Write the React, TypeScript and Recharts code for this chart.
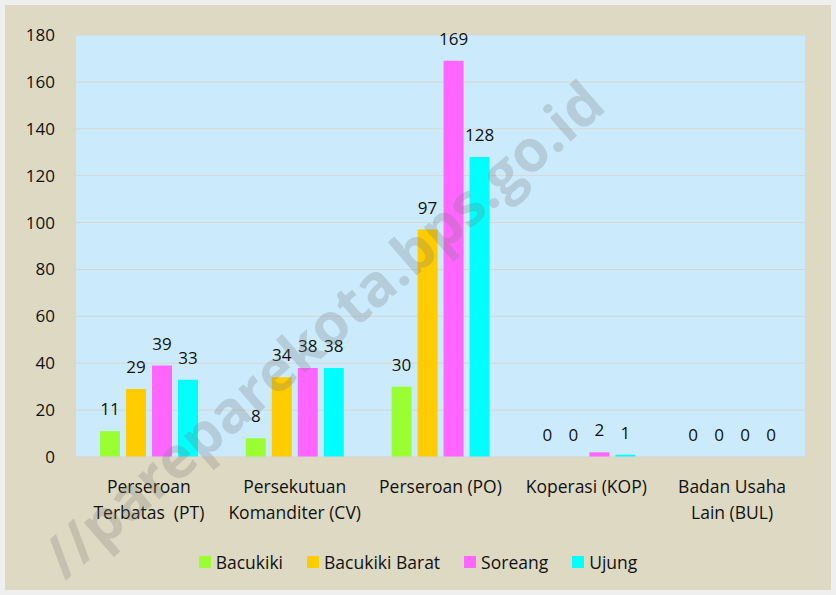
import React from "react";
import { BarChart, Bar, XAxis, YAxis, CartesianGrid, LabelList, Legend } from "recharts";

const categories = [
  "Perseroan\nTerbatas  (PT)",
  "Persekutuan\nKomanditer (CV)",
  "Perseroan (PO)",
  "Koperasi (KOP)",
  "Badan Usaha\nLain (BUL)",
];
const bacukiki = [11, 8, 30, 0, 0];
const bacukikiBarat = [29, 34, 97, 0, 0];
const soreang = [39, 38, 169, 2, 0];
const ujung = [33, 38, 128, 1, 0];
const yTicks = [0, 20, 40, 60, 80, 100, 120, 140, 160, 180];

const series = [
  { key: "bacukiki", name: "Bacukiki", color: "#99ff33" },
  { key: "bacukikiBarat", name: "Bacukiki Barat", color: "#ffcc00" },
  { key: "soreang", name: "Soreang", color: "#ff66ff" },
  { key: "ujung", name: "Ujung", color: "#00ffff" },
];

const data = categories.map((name, i) => ({
  name,
  bacukiki: bacukiki[i],
  bacukikiBarat: bacukikiBarat[i],
  soreang: soreang[i],
  ujung: ujung[i],
}));

const FONT = "'Open Sans', sans-serif";

const CategoryTick = (props: any) => {
  const { x, y, payload } = props;
  const lines = String(payload.value).split("\n");
  return (
    <text x={x} y={y} textAnchor="middle" fontSize={17.5} fill="#111" fontFamily={FONT}>
      {lines.map((line, i) => (
        <tspan key={i} x={x} y={y + 28 + i * 26} style={{ whiteSpace: "pre" }}>
          {line}
        </tspan>
      ))}
    </text>
  );
};

// draws the value above the bar, also for zero-height bars
const ValueLabel = (props: any) => {
  const { x, y, width, value } = props;
  return (
    <text x={Number(x) + Number(width) / 2} y={Number(y) - 16} textAnchor="middle" fontSize={17} fill="#111" fontFamily={FONT}>
      {value}
    </text>
  );
};

const LegendContent = () => (
  <div style={{ display: "flex", justifyContent: "center", alignItems: "center", fontFamily: FONT, fontSize: 17.5, color: "#111" }}>
    {series.map((s, i) => (
      <div key={s.key} style={{ display: "flex", alignItems: "center", marginLeft: i === 0 ? 0 : 24 }}>
        <span style={{ width: 12, height: 12, background: s.color, display: "inline-block", marginRight: 5 }} />
        <span>{s.name}</span>
      </div>
    ))}
  </div>
);

// tiny height for zero values so their labels still get drawn
const zeroPoint = (value: any) => (value === 0 ? 0.01 : 0);

export default function App() {
  return (
    <div style={{ position: "absolute", left: 0, top: 0, width: 836, height: 595, background: "#efefef", overflow: "hidden" }}>
      <div style={{ position: "absolute", left: 5, top: 5, width: 826, height: 585, background: "#ddd9c3" }}>
        <BarChart
          width={826}
          height={585}
          data={data}
          margin={{ top: 30, right: 26, left: 0, bottom: 53 }}
          barSize={20}
          barGap={6}
        >
          <CartesianGrid vertical={false} stroke="#d8d6d0" fill="#cbebfd" />
          <XAxis
            dataKey="name"
            height={80}
            interval={0}
            tickLine={false}
            axisLine={{ stroke: "#d8d6d0" }}
            tick={<CategoryTick />}
          />
          <YAxis
            width={71}
            domain={[0, 180]}
            ticks={yTicks}
            tickLine={false}
            axisLine={false}
            tickMargin={15}
            tick={{ fontSize: 17, fill: "#111", fontFamily: FONT }}
          />
          <Legend
            layout="horizontal"
            verticalAlign="middle"
            align="center"
            wrapperStyle={{ top: 545, left: 0, width: 826 }}
            content={<LegendContent />}
          />
          {series.map((s) => (
            <Bar key={s.key} dataKey={s.key} name={s.name} fill={s.color} minPointSize={zeroPoint} isAnimationActive={false}>
              <LabelList dataKey={s.key} content={<ValueLabel />} />
            </Bar>
          ))}
        </BarChart>
      </div>
      <div
        style={{
          position: "absolute",
          left: 322,
          top: 328,
          transform: "translate(-50%, -50%) rotate(-41deg)",
          whiteSpace: "nowrap",
          fontFamily: "'Open Sans', sans-serif",
          fontWeight: 700,
          fontSize: 58,
          color: "rgba(120,120,120,0.26)",
          pointerEvents: "none",
        }}
      >
        //pareparekota.bps.go.id
      </div>
    </div>
  );
}
